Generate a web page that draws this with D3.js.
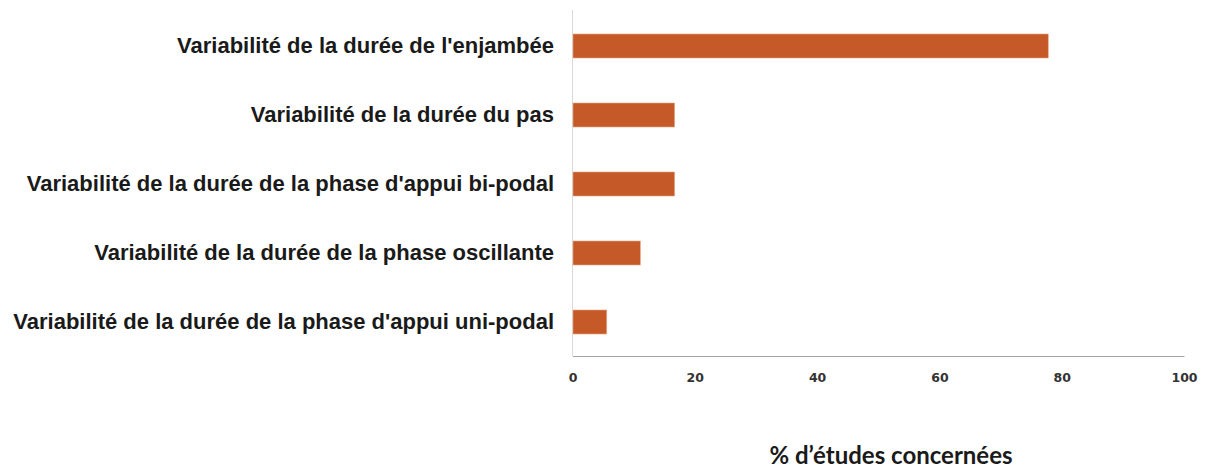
<!DOCTYPE html>
<html>
<head>
<meta charset="utf-8">
<script src="https://cdn.jsdelivr.net/npm/d3@7"></script>
<style>
  body { margin: 0; background: #fff; }
</style>
</head>
<body>
<script>
var categories = [
  "Variabilité de la durée de l'enjambée",
  "Variabilité de la durée du pas",
  "Variabilité de la durée de la phase d'appui bi-podal",
  "Variabilité de la durée de la phase oscillante",
  "Variabilité de la durée de la phase d'appui uni-podal"
];
var values = [77.8, 16.7, 16.7, 11.1, 5.6];
var tickValues = [0, 20, 40, 60, 80, 100];
var axisTitle = "% d’études concernées";

var width = 1207, height = 468;

var svg = d3.select("body").append("svg")
  .attr("width", width)
  .attr("height", height);

var x = d3.scaleLinear().domain([0, 100]).range([572.5, 1184]);
var y = d3.scaleBand().domain(categories).range([11.5, 356.5])
  .paddingInner(0.652).paddingOuter(0.326);

// vertical axis line
svg.append("line")
  .attr("x1", x(0)).attr("x2", x(0))
  .attr("y1", 10).attr("y2", 356)
  .attr("stroke", "#d9d9d9").attr("stroke-width", 1);

svg.selectAll("rect.bar")
  .data(categories)
  .enter().append("rect")
  .attr("class", "bar")
  .attr("x", x(0) + 0.5)
  .attr("y", function(d){ return y(d); })
  .attr("width", function(d, i){ return x(values[i]) - x(0) - 0.5; })
  .attr("height", y.bandwidth())
  .attr("fill", "#c55a28")
  .attr("stroke", "#e8a88a")
  .attr("stroke-width", 0.6);

// horizontal axis
var xAxis = d3.axisBottom(x).tickValues(tickValues).tickSize(0).tickPadding(17);
var gx = svg.append("g").attr("transform", "translate(0,356)").call(xAxis);
gx.select(".domain").attr("stroke", "#a6a6a6").attr("stroke-width", 1.2);
gx.selectAll("text")
  .attr("font-family", "DejaVu Sans")
  .attr("font-weight", "bold")
  .attr("font-size", 12.5)
  .attr("fill", "#333");

// category labels
svg.selectAll("text.cat")
  .data(categories)
  .enter().append("text")
  .attr("class", "cat")
  .attr("x", 554)
  .attr("y", function(d){ return y(d) + y.bandwidth() / 2; })
  .attr("dy", "0.3em")
  .attr("text-anchor", "end")
  .attr("font-family", "Liberation Sans, Arial, sans-serif")
  .attr("font-weight", "bold")
  .attr("font-size", 22)
  .attr("fill", "#1a1a1a")
  .text(function(d){ return d; });

svg.append("text")
  .attr("x", 891)
  .attr("y", 464)
  .attr("text-anchor", "middle")
  .attr("font-family", "Lato, Open Sans, sans-serif")
  .attr("font-weight", "bold")
  .attr("font-size", 24)
  .attr("fill", "#1a1a1a")
  .text(axisTitle);
</script>
</body>
</html>
